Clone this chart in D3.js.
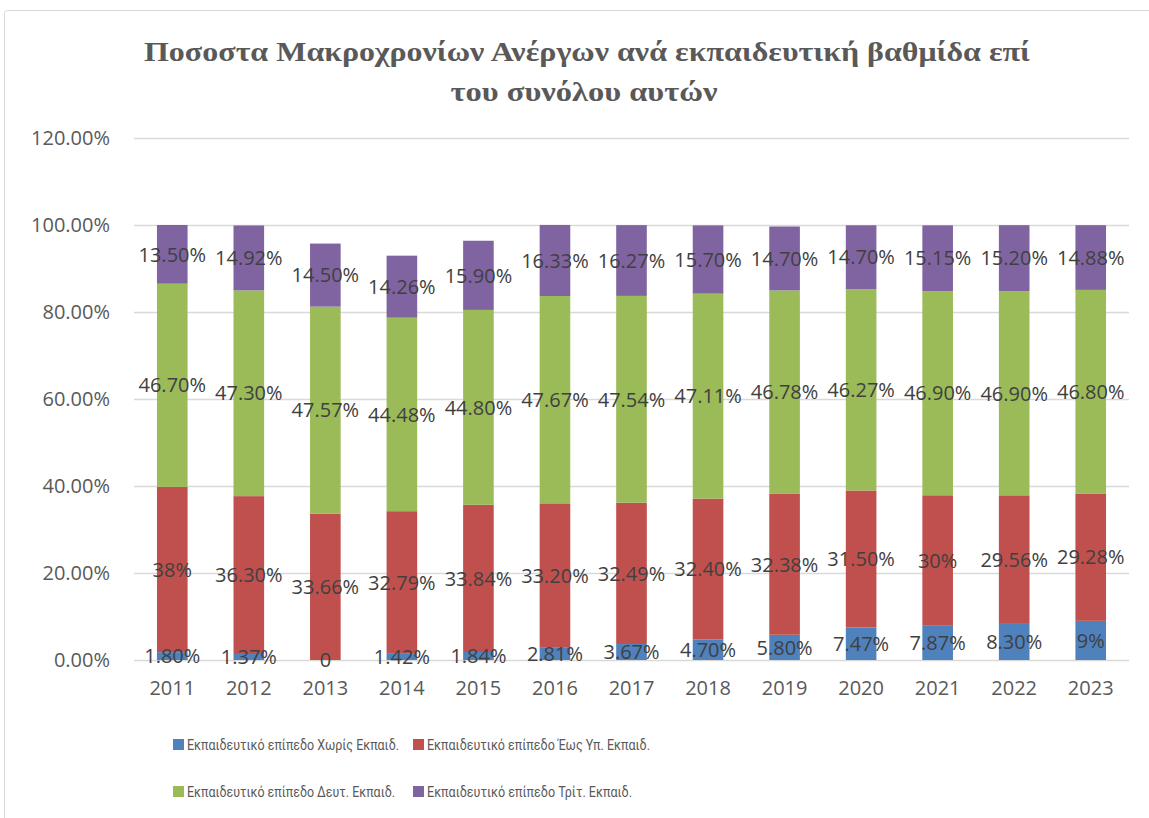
<!DOCTYPE html>
<html>
<head>
<meta charset="utf-8">
<script src="https://cdn.jsdelivr.net/npm/d3@7"></script>
<style>
  body { margin: 0; background: #fff; }
  svg { display: block; }
</style>
</head>
<body>
<svg id="chart" width="1149" height="818"></svg>
<script>
// data
years = ["2011","2012","2013","2014","2015","2016","2017","2018","2019","2020","2021","2022","2023"];
noEdu   = [1.80, 1.37, 0, 1.42, 1.84, 2.81, 3.67, 4.70, 5.80, 7.47, 7.87, 8.30, 9];
lowEdu  = [38, 36.30, 33.66, 32.79, 33.84, 33.20, 32.49, 32.40, 32.38, 31.50, 30, 29.56, 29.28];
secEdu  = [46.70, 47.30, 47.57, 44.48, 44.80, 47.67, 47.54, 47.11, 46.78, 46.27, 46.90, 46.90, 46.80];
terEdu  = [13.50, 14.92, 14.50, 14.26, 15.90, 16.33, 16.27, 15.70, 14.70, 14.70, 15.15, 15.20, 14.88];
// labels as printed on the chart
noEduLbl  = ["1.80%","1.37%","0","1.42%","1.84%","2.81%","3.67%","4.70%","5.80%","7.47%","7.87%","8.30%","9%"];
lowEduLbl = ["38%","36.30%","33.66%","32.79%","33.84%","33.20%","32.49%","32.40%","32.38%","31.50%","30%","29.56%","29.28%"];
secEduLbl = ["46.70%","47.30%","47.57%","44.48%","44.80%","47.67%","47.54%","47.11%","46.78%","46.27%","46.90%","46.90%","46.80%"];
terEduLbl = ["13.50%","14.92%","14.50%","14.26%","15.90%","16.33%","16.27%","15.70%","14.70%","14.70%","15.15%","15.20%","14.88%"];
seriesNames = ["Εκπαιδευτικό επίπεδο Χωρίς Εκπαιδ.", "Εκπαιδευτικό επίπεδο Έως Υπ. Εκπαιδ.",
               "Εκπαιδευτικό επίπεδο Δευτ. Εκπαιδ.", "Εκπαιδευτικό επίπεδο Τρίτ. Εκπαιδ."];
yTicks = [0, 20, 40, 60, 80, 100, 120];

colors = ["#4f81bd", "#c0504d", "#9bbb59", "#8064a2"];
keys = ["a", "b", "c", "d"];
allVals = [noEdu, lowEdu, secEdu, terEdu];
allLbls = [noEduLbl, lowEduLbl, secEduLbl, terEduLbl];

labelFont = "'Open Sans', sans-serif";

// legend layout (the original uses a narrow font, so the text is fitted to its width)
legendPos = [[173, 745], [413, 745], [173, 792], [413, 792]];
legendWidth = [212, 223, 208, 205];

var svg = d3.select("#chart");

// chart frame
svg.append("rect")
  .attr("x", 4.5).attr("y", 10.5)
  .attr("width", 1160).attr("height", 820)
  .attr("rx", 3)
  .attr("fill", "#fff")
  .attr("stroke", "#d9d9d9");

// title
var title = svg.append("text")
  .attr("text-anchor", "middle")
  .attr("font-family", "'Liberation Serif', 'Times New Roman', serif")
  .attr("font-weight", "bold")
  .attr("font-size", 28)
  .attr("fill", "#595959");
title.append("tspan").attr("x", 587).attr("y", 61)
  .attr("textLength", 886).attr("lengthAdjust", "spacingAndGlyphs")
  .text("Ποσοστα Μακροχρονίων Ανέργων ανά εκπαιδευτική βαθμίδα επί");
title.append("tspan").attr("x", 584).attr("y", 101)
  .attr("textLength", 267).attr("lengthAdjust", "spacingAndGlyphs")
  .text("του συνόλου αυτών");

var table = years.map(function(y, i) {
  var row = {year: y};
  keys.forEach(function(k, j) { row[k] = allVals[j][i]; });
  return row;
});

var stack = d3.stack().keys(keys);
var layers = stack(table);

var x = d3.scaleBand()
  .domain(years)
  .range([134, 1129])
  .paddingInner(0.6)
  .paddingOuter(0.3);

var y = d3.scaleLinear()
  .domain([0, 120])
  .range([660, 138]);

// gridlines
svg.append("g")
  .selectAll("line")
  .data(yTicks)
  .enter().append("line")
  .attr("x1", 134).attr("x2", 1129)
  .attr("y1", function(d) { return Math.round(y(d)) + 0.5; })
  .attr("y2", function(d) { return Math.round(y(d)) + 0.5; })
  .attr("stroke", "#d9d9d9")
  .attr("stroke-width", 1.3);

var yAxis = d3.axisLeft(y)
  .tickValues(yTicks)
  .tickSize(0)
  .tickPadding(0)
  .tickFormat(function(d) { return d.toFixed(2) + "%"; });

svg.append("g")
  .attr("transform", "translate(110,0)")
  .call(yAxis)
  .call(function(g) { g.select(".domain").remove(); })
  .selectAll("text")
  .attr("font-family", labelFont)
  .attr("font-size", 20)
  .attr("fill", "#595959");

var xAxis = d3.axisBottom(x).tickSize(0).tickPadding(0);

svg.append("g")
  .attr("transform", "translate(0,681)")
  .call(xAxis)
  .call(function(g) { g.select(".domain").remove(); })
  .selectAll("text")
  .attr("font-family", labelFont)
  .attr("font-size", 20)
  .attr("fill", "#595959");

// bars
var layerG = svg.append("g")
  .selectAll("g")
  .data(layers)
  .enter().append("g")
  .attr("fill", function(d, i) { return colors[i]; });

layerG.selectAll("rect")
  .data(function(d) { return d; })
  .enter().append("rect")
  .attr("x", function(d) { return x(d.data.year); })
  .attr("width", x.bandwidth())
  .attr("y", function(d) { return y(d[1]); })
  .attr("height", function(d) { return y(d[0]) - y(d[1]); });

// data labels
svg.append("g")
  .selectAll("g")
  .data(layers)
  .enter().append("g")
  .each(function(layer, li) {
    d3.select(this).selectAll("text")
      .data(layer)
      .enter().append("text")
      .attr("x", function(d) { return x(d.data.year) + x.bandwidth() / 2; })
      .attr("y", function(d) { return (y(d[0]) + y(d[1])) / 2; })
      .attr("dy", "0.36em")
      .attr("text-anchor", "middle")
      .attr("font-family", labelFont)
      .attr("font-size", 20)
      .attr("fill", "#404040")
      .text(function(d, i) { return allLbls[li][i]; });
  });

// legend
var legend = svg.append("g")
  .selectAll("g")
  .data(seriesNames)
  .enter().append("g")
  .attr("transform", function(d, i) { return "translate(" + legendPos[i][0] + "," + legendPos[i][1] + ")"; });

legend.append("rect")
  .attr("x", 0).attr("y", -6)
  .attr("width", 11).attr("height", 11)
  .attr("fill", function(d, i) { return colors[i]; });

legend.append("text")
  .attr("x", 14)
  .attr("dy", "0.35em")
  .attr("font-family", "Roboto, 'Open Sans', sans-serif")
  .attr("font-size", 15.5)
  .attr("textLength", function(d, i) { return legendWidth[i]; })
  .attr("lengthAdjust", "spacingAndGlyphs")
  .attr("fill", "#595959")
  .text(function(d) { return d; });
</script>
</body>
</html>
